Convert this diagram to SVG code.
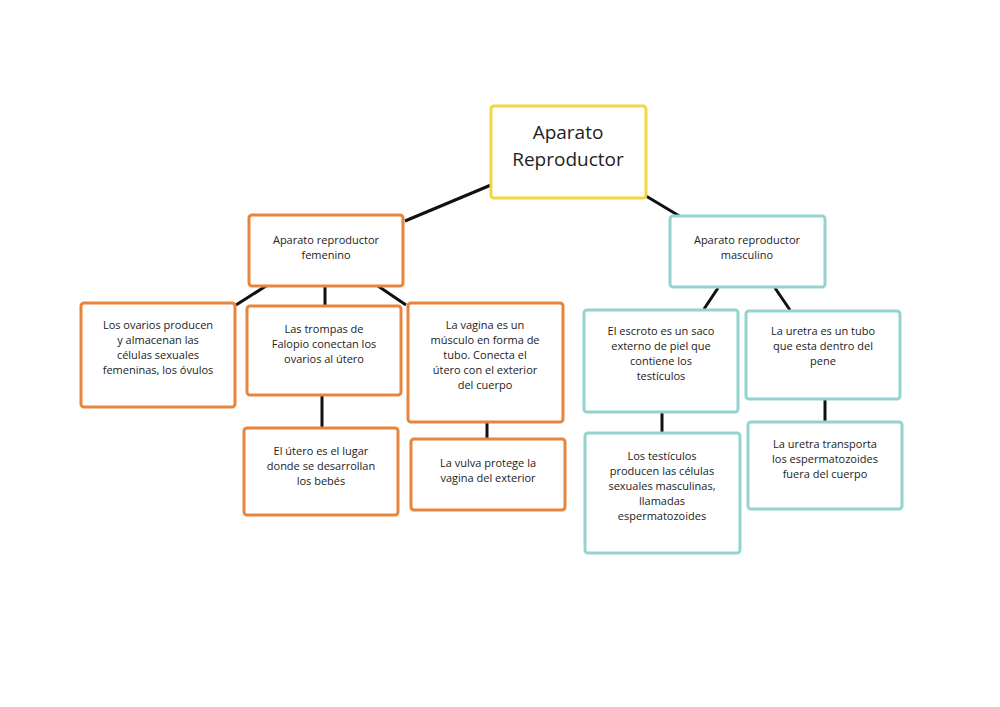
<svg xmlns="http://www.w3.org/2000/svg" width="1000" height="707" viewBox="0 0 1000 707">
<style>
.b{fill:#fff;stroke-width:3;rx:3}
.o{stroke:#e8853d}
.t{stroke:#93d4d0}
.y{stroke:#f2d642}
text{font-family:"Open Sans","Liberation Sans",sans-serif;font-size:11px;fill:#222;text-anchor:middle}
.c line{stroke:#111;stroke-width:3}
</style>
<rect width="1000" height="707" fill="#fff"/>
<g class="c">
<line x1="491" y1="185" x2="405" y2="221"/>
<line x1="646" y1="196" x2="681" y2="217"/>
<line x1="266" y1="286" x2="236" y2="305"/>
<line x1="325" y1="286" x2="325" y2="306"/>
<line x1="378" y1="286" x2="406" y2="305"/>
<line x1="718" y1="288" x2="704" y2="309"/>
<line x1="775" y1="288" x2="790" y2="310"/>
<line x1="322" y1="395" x2="322" y2="428"/>
<line x1="487" y1="422" x2="487" y2="439"/>
<line x1="662" y1="412" x2="662" y2="433"/>
<line x1="825" y1="399" x2="825" y2="422"/>
</g>
<g id="root"><rect class="b y" x="491" y="106" width="155" height="92"/><text x="568" y="139" style="font-size:19px">Aparato</text><text x="568" y="166" style="font-size:19px">Reproductor</text></g>
<g id="fem"><rect class="b o" x="249" y="215" width="154" height="71"/><text x="326" y="244">Aparato reproductor</text><text x="326" y="259">femenino</text></g>
<g id="masc"><rect class="b t" x="670" y="216" width="155" height="71"/><text x="747" y="244">Aparato reproductor</text><text x="747" y="259">masculino</text></g>
<g id="ovarios"><rect class="b o" x="81" y="303" width="154" height="104"/><text x="158" y="329">Los ovarios producen</text><text x="158" y="344">y almacenan las</text><text x="158" y="359">células sexuales</text><text x="158" y="374">femeninas, los óvulos</text></g>
<g id="trompas"><rect class="b o" x="247" y="306" width="154" height="89"/><text x="324" y="333">Las trompas de</text><text x="324" y="348">Falopio conectan los</text><text x="324" y="363">ovarios al útero</text></g>
<g id="vagina"><rect class="b o" x="408" y="303" width="155" height="119"/><text x="485" y="329">La vagina es un</text><text x="485" y="344">músculo en forma de</text><text x="485" y="359">tubo. Conecta el</text><text x="485" y="374">útero con el exterior</text><text x="485" y="389">del cuerpo</text></g>
<g id="escroto"><rect class="b t" x="584" y="310" width="154" height="102"/><text x="661" y="335">El escroto es un saco</text><text x="661" y="350">externo de piel que</text><text x="661" y="365">contiene los</text><text x="661" y="380">testículos</text></g>
<g id="uretra"><rect class="b t" x="746" y="311" width="154" height="88"/><text x="823" y="335">La uretra es un tubo</text><text x="823" y="350">que esta dentro del</text><text x="823" y="365">pene</text></g>
<g id="utero"><rect class="b o" x="244" y="428" width="154" height="87"/><text x="321" y="455">El útero es el lugar</text><text x="321" y="470">donde se desarrollan</text><text x="321" y="485">los bebés</text></g>
<g id="vulva"><rect class="b o" x="411" y="439" width="154" height="71"/><text x="488" y="467">La vulva protege la</text><text x="488" y="482">vagina del exterior</text></g>
<g id="testiculos"><rect class="b t" x="585" y="433" width="155" height="120"/><text x="662" y="460">Los testículos</text><text x="662" y="475">producen las células</text><text x="662" y="490">sexuales masculinas,</text><text x="662" y="505">llamadas</text><text x="662" y="520">espermatozoides</text></g>
<g id="transporta"><rect class="b t" x="748" y="422" width="154" height="87"/><text x="825" y="448">La uretra transporta</text><text x="825" y="463">los espermatozoides</text><text x="825" y="478">fuera del cuerpo</text></g>
</svg>
